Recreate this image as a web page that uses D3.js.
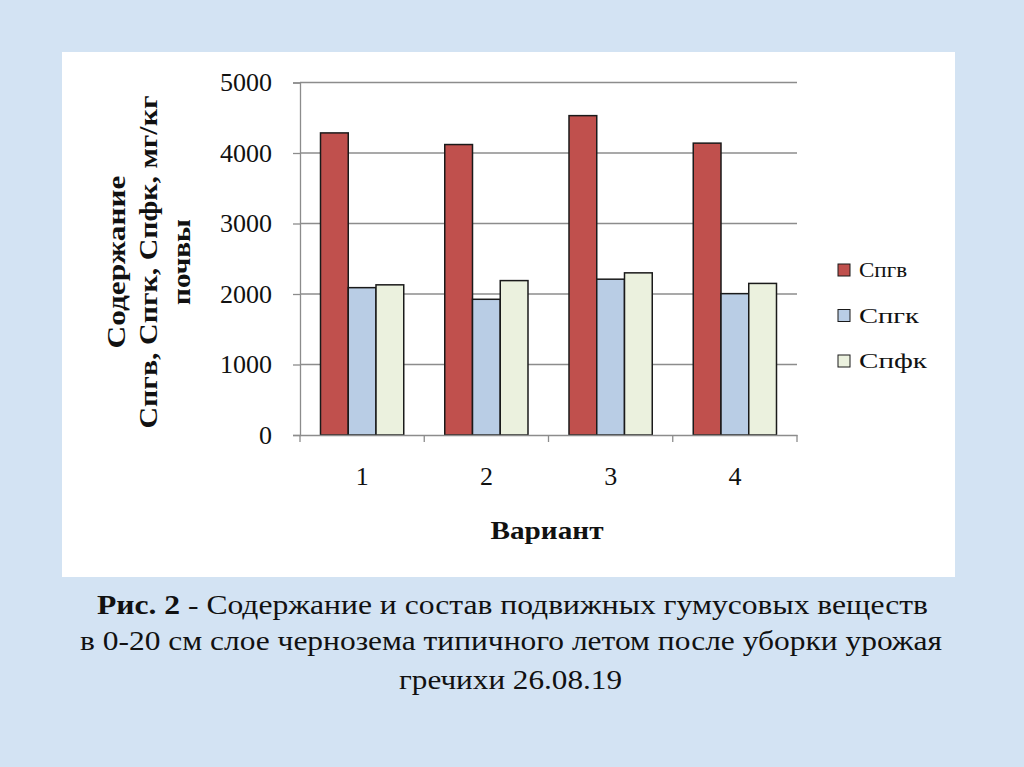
<!DOCTYPE html>
<html>
<head>
<meta charset="utf-8">
<script src="https://cdn.jsdelivr.net/npm/d3@7"></script>
<style>
  body { margin: 0; background: #d3e3f3; }
  svg { display: block; }
  svg text { font-family: "Liberation Serif", "DejaVu Serif", serif; }
</style>
</head>
<body>
<svg width="1024" height="767"></svg>
<script>
// data
const variants = ["1", "2", "3", "4"];
const seriesNames = ["Спгв", "Спгк", "Спфк"];
const spgv = [4285, 4120, 4530, 4140];
const spgk = [2090, 1925, 2210, 2005];
const spfk = [2130, 2190, 2300, 2150];
const yTicks = [0, 1000, 2000, 3000, 4000, 5000];
const colors = ["#c0504d", "#b9cde5", "#ebf1de"];

const svg = d3.select("svg");
const serif = "Liberation Serif, DejaVu Serif, serif";

// page background + white panel
svg.append("rect").attr("width", 1024).attr("height", 767).attr("fill", "#d3e3f3");
svg.append("rect").attr("x", 62).attr("y", 52).attr("width", 893).attr("height", 525).attr("fill", "#fff");

let margin = {left: 300, right: 797, top: 82.5, bottom: 435};

const x = d3.scaleBand().domain(variants).range([margin.left, margin.right]).paddingInner(0.33).paddingOuter(0.165);
const xs = d3.scaleBand().domain(seriesNames).range([0, x.bandwidth()]);
const y = d3.scaleLinear().domain([0, 5000]).range([margin.bottom, margin.top]);

// gridlines
svg.append("g")
    .selectAll("line")
    .data(yTicks.slice(1))
    .join("line")
    .attr("x1", margin.left).attr("x2", margin.right)
    .attr("y1", d => y(d)).attr("y2", d => y(d))
    .attr("stroke", "#8c8c8c").attr("stroke-width", 1.3);

// bars
const rows = variants.map((v, i) => ({v, vals: [spgv[i], spgk[i], spfk[i]]}));
const grp = svg.append("g")
    .selectAll("g")
    .data(rows)
    .join("g")
    .attr("transform", d => `translate(${x(d.v)},0)`);

grp.selectAll("rect")
    .data(d => d.vals.map((val, k) => ({name: seriesNames[k], val, k})))
    .join("rect")
    .attr("x", d => xs(d.name))
    .attr("width", xs.bandwidth())
    .attr("y", d => y(d.val))
    .attr("height", d => y(0) - y(d.val))
    .attr("fill", d => colors[d.k])
    .attr("stroke", "#1a1a1a")
    .attr("stroke-width", 1.5);

// y axis
const yAxis = svg.append("g")
    .attr("transform", `translate(${margin.left},0)`)
    .call(d3.axisLeft(y).tickValues(yTicks).tickSize(7).tickPadding(21).tickFormat(d3.format("d")));
yAxis.select(".domain").attr("stroke", "#8c8c8c").attr("stroke-width", 1.3);
yAxis.selectAll(".tick line").attr("stroke", "#8c8c8c").attr("stroke-width", 1.3);
yAxis.selectAll("text").attr("font-family", serif).attr("font-size", 26).attr("fill", "#111");

// x axis
const xAxis = svg.append("g")
    .attr("transform", `translate(0,${margin.bottom})`)
    .call(d3.axisBottom(x).tickSize(0).tickPadding(32));
xAxis.select(".domain").attr("stroke", "#8c8c8c").attr("stroke-width", 1.3);
xAxis.selectAll("text").attr("font-family", serif).attr("font-size", 26).attr("fill", "#111");
// category separators
svg.append("g")
    .selectAll("line")
    .data([margin.left].concat(variants.map(v => x(v) + x.bandwidth() + x.step() * x.paddingInner() / 2)))
    .join("line")
    .attr("x1", d => d).attr("x2", d => d)
    .attr("y1", margin.bottom).attr("y2", margin.bottom + 7)
    .attr("stroke", "#8c8c8c").attr("stroke-width", 1.3);

// axis titles
svg.append("text")
    .attr("x", 547).attr("y", 539)
    .attr("text-anchor", "middle")
    .attr("font-weight", "bold").attr("font-size", 25)
    .attr("fill", "#111")
    .attr("textLength", 113).attr("lengthAdjust", "spacingAndGlyphs")
    .text("Вариант");

const yLabel = [
    {t: "Содержание", bx: 125, len: 173},
    {t: "Спгв, Спгк, Спфк, мг/кг", bx: 157, len: 333},
    {t: "почвы", bx: 190, len: 86}
];
svg.append("g")
    .selectAll("text")
    .data(yLabel)
    .join("text")
    .attr("transform", d => `translate(${d.bx},262) rotate(-90)`)
    .attr("text-anchor", "middle")
    .attr("font-weight", "bold").attr("font-size", 25)
    .attr("fill", "#111")
    .attr("textLength", d => d.len).attr("lengthAdjust", "spacingAndGlyphs")
    .text(d => d.t);

// legend
const legLen = [48, 60, 68];
const leg = svg.append("g")
    .selectAll("g")
    .data(seriesNames)
    .join("g")
    .attr("transform", (d, i) => `translate(838,${264 + i * 45.5})`);
leg.append("rect")
    .attr("width", 12).attr("height", 12)
    .attr("fill", (d, i) => colors[i])
    .attr("stroke", "#1a1a1a").attr("stroke-width", 1);
leg.append("text")
    .attr("x", 21).attr("y", 13)
    .attr("font-size", 22)
    .attr("fill", "#111")
    .attr("textLength", (d, i) => legLen[i]).attr("lengthAdjust", "spacingAndGlyphs")
    .text(d => d);

// caption
const caption = [
    {x: 80, y: 650, len: 862, t: "в 0-20 см слое чернозема типичного летом после уборки урожая"},
    {x: 399, y: 689, len: 223, t: "гречихи 26.08.19"}
];
const l1 = svg.append("text").attr("x", 97).attr("y", 614)
    .attr("font-size", 27).attr("fill", "#111")
    .attr("textLength", 831).attr("lengthAdjust", "spacingAndGlyphs");
l1.append("tspan").attr("font-weight", "bold").text("Рис. 2");
l1.append("tspan").text(" - Содержание и состав подвижных гумусовых веществ");
svg.append("g")
    .selectAll("text")
    .data(caption)
    .join("text")
    .attr("x", d => d.x).attr("y", d => d.y)
    .attr("font-size", 27).attr("fill", "#111")
    .attr("textLength", d => d.len).attr("lengthAdjust", "spacingAndGlyphs")
    .text(d => d.t);
</script>
</body>
</html>
